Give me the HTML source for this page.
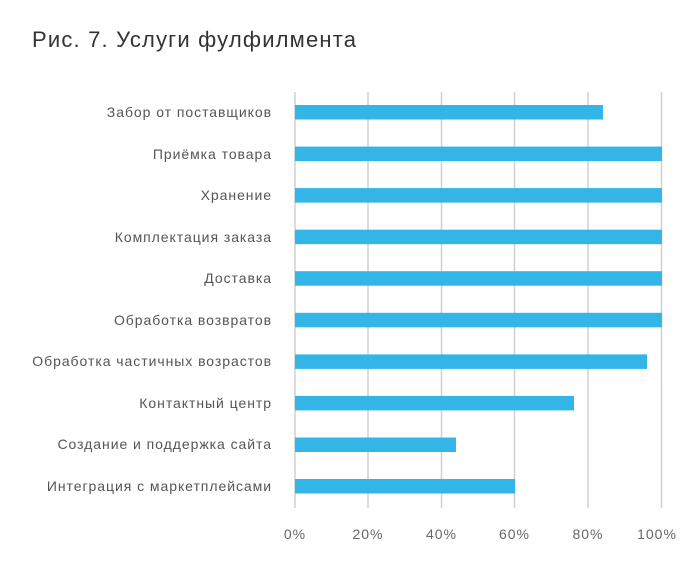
<!DOCTYPE html>
<html><head><meta charset="utf-8"><style>
body{margin:0;background:#fff;}
svg{display:block;font-family:"Liberation Sans",sans-serif;}
</style></head><body>
<svg width="700" height="562" viewBox="0 0 700 562">
<text x="32" y="47" font-size="22" fill="#333" textLength="324" lengthAdjust="spacing">Рис. 7. Услуги фулфилмента</text>
<g stroke="#d0d0d0" stroke-width="1.5">
<line x1="295" y1="92" x2="295" y2="508"/>
<line x1="368" y1="92" x2="368" y2="508"/>
<line x1="441.5" y1="92" x2="441.5" y2="508"/>
<line x1="514.5" y1="92" x2="514.5" y2="508"/>
<line x1="588" y1="92" x2="588" y2="508"/>
<line x1="661.5" y1="92" x2="661.5" y2="508"/>
</g>
<g fill="#33b5e8">
<rect x="295" y="105" width="308" height="14.5"/>
<rect x="295" y="146.6" width="367" height="14.5"/>
<rect x="295" y="188.1" width="367" height="14.5"/>
<rect x="295" y="229.7" width="367" height="14.5"/>
<rect x="295" y="271.2" width="367" height="14.5"/>
<rect x="295" y="312.8" width="367" height="14.5"/>
<rect x="295" y="354.4" width="352" height="14.5"/>
<rect x="295" y="395.9" width="279" height="14.5"/>
<rect x="295" y="437.5" width="161" height="14.5"/>
<rect x="295" y="479" width="220" height="14.5"/>
</g>
<g font-size="14" fill="#555" text-anchor="end" letter-spacing="0.95">
<text x="272" y="117">Забор от поставщиков</text>
<text x="272" y="159">Приёмка товара</text>
<text x="272" y="200">Хранение</text>
<text x="272" y="242">Комплектация заказа</text>
<text x="272" y="283">Доставка</text>
<text x="272" y="325">Обработка возвратов</text>
<text x="272" y="366">Обработка частичных возрастов</text>
<text x="272" y="408">Контактный центр</text>
<text x="272" y="449">Создание и поддержка сайта</text>
<text x="272" y="491">Интеграция с маркетплейсами</text>
</g>
<g font-size="14" fill="#666" text-anchor="middle" letter-spacing="1">
<text x="295" y="539">0%</text>
<text x="368" y="539">20%</text>
<text x="441.5" y="539">40%</text>
<text x="514.5" y="539">60%</text>
<text x="588" y="539">80%</text>
<text x="657" y="539">100%</text>
</g>
</svg>
</body></html>
